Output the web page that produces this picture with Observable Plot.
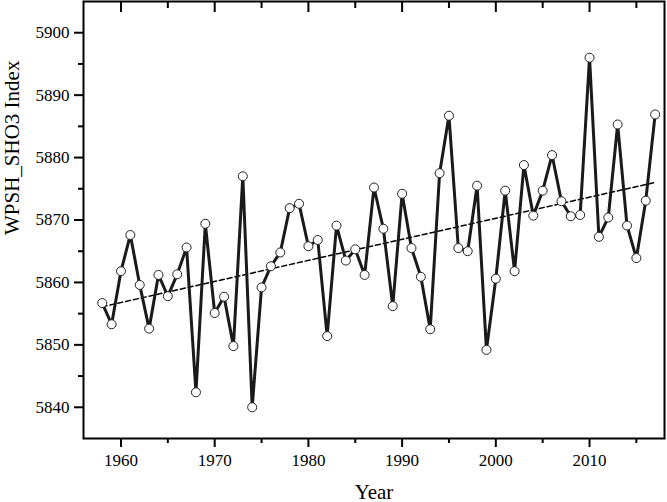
<!DOCTYPE html>
<html>
<head>
<meta charset="utf-8">
<script src="https://cdn.jsdelivr.net/npm/d3@7"></script>
<script src="https://cdn.jsdelivr.net/npm/@observablehq/plot@0.6"></script>
<style>
  html, body { margin: 0; padding: 0; background: #fff; }
  #chart svg { display: block; }
  #chart svg text { font-family: 'Liberation Serif', 'Times New Roman', serif; }
</style>
</head>
<body>
<div id="chart"></div>
<script>
const years = d3.range(1958, 2018);
const values = [
  5856.7, 5853.3, 5861.8, 5867.6, 5859.6, 5852.6, 5861.2, 5857.8, 5861.3, 5865.6,
  5842.4, 5869.4, 5855.1, 5857.7, 5849.8, 5877.0, 5840.0, 5859.2, 5862.6, 5864.8,
  5871.9, 5872.6, 5865.8, 5866.8, 5851.4, 5869.1, 5863.5, 5865.3, 5861.2, 5875.2,
  5868.6, 5856.2, 5874.2, 5865.5, 5860.9, 5852.5, 5877.5, 5886.7, 5865.5, 5865.0,
  5875.5, 5849.2, 5860.6, 5874.7, 5861.8, 5878.8, 5870.7, 5874.7, 5880.4, 5873.0,
  5870.6, 5870.8, 5896.0, 5867.3, 5870.4, 5885.3, 5869.1, 5863.9, 5873.1, 5886.9
];
const xMajorTicks = [1960, 1970, 1980, 1990, 2000, 2010];
const xMinorTicks = [1965, 1975, 1985, 1995, 2005, 2015];
const yMajorTicks = [5840, 5850, 5860, 5870, 5880, 5890, 5900];
const yMinorTicks = [5845, 5855, 5865, 5875, 5885, 5895];
const xTitle = "Year";
const yTitle = "WPSH_SHO3 Index";

const data = years.map((year, i) => ({year, value: values[i]}));
const serif = "'Liberation Serif', 'Times New Roman', serif";

const chart = Plot.plot({
  width: 667,
  height: 502,
  marginLeft: 83,
  marginRight: 3,
  marginTop: 1,
  marginBottom: 64,
  style: {fontFamily: serif, fontSize: "17px", background: "#fff", color: "#000"},
  x: {domain: [1956, 2018]},
  y: {domain: [5835, 5905]},
  marks: [
    Plot.frame({stroke: "#000", strokeWidth: 2}),
    Plot.axisY(yMajorTicks, {tickSize: 9, tickPadding: 5, strokeWidth: 2, label: null, fontSize: 17, fontFamily: serif, tickFormat: d => String(d), fill: "#000"}),
    Plot.axisY(yMinorTicks, {tickSize: 5, text: null, strokeWidth: 2, label: null}),
    Plot.axisX(xMajorTicks, {tickSize: 9, tickPadding: 6, strokeWidth: 2, label: null, fontSize: 17, fontFamily: serif, tickFormat: d => String(d), fill: "#000"}),
    Plot.axisX(xMinorTicks, {tickSize: 5, text: null, strokeWidth: 2, label: null}),
    Plot.axisX(xMajorTicks, {anchor: "top", tickSize: 10, dy: 10, text: null, strokeWidth: 2, label: null}),
    Plot.axisX(xMinorTicks, {anchor: "top", tickSize: 6, dy: 6, text: null, strokeWidth: 2, label: null}),
    Plot.linearRegressionY(data, {x: "year", y: "value", ci: 0, stroke: "#000", strokeWidth: 1.5, strokeDasharray: "5,3"}),
    Plot.line(data, {x: "year", y: "value", stroke: "#1a1a1a", strokeWidth: 3}),
    Plot.dot(data, {x: "year", y: "value", r: 4.5, fill: "#fff", stroke: "#222", strokeWidth: 1}),
    Plot.text([xTitle], {frameAnchor: "bottom", dy: 60, lineAnchor: "bottom", fontSize: 21, fontFamily: serif, fill: "#000"}),
    Plot.text([yTitle], {frameAnchor: "left", dx: -65, dy: 15, rotate: -90, lineAnchor: "bottom", fontSize: 21, fontFamily: serif, fill: "#000"})
  ]
});
document.getElementById("chart").appendChild(chart);
</script>
</body>
</html>
